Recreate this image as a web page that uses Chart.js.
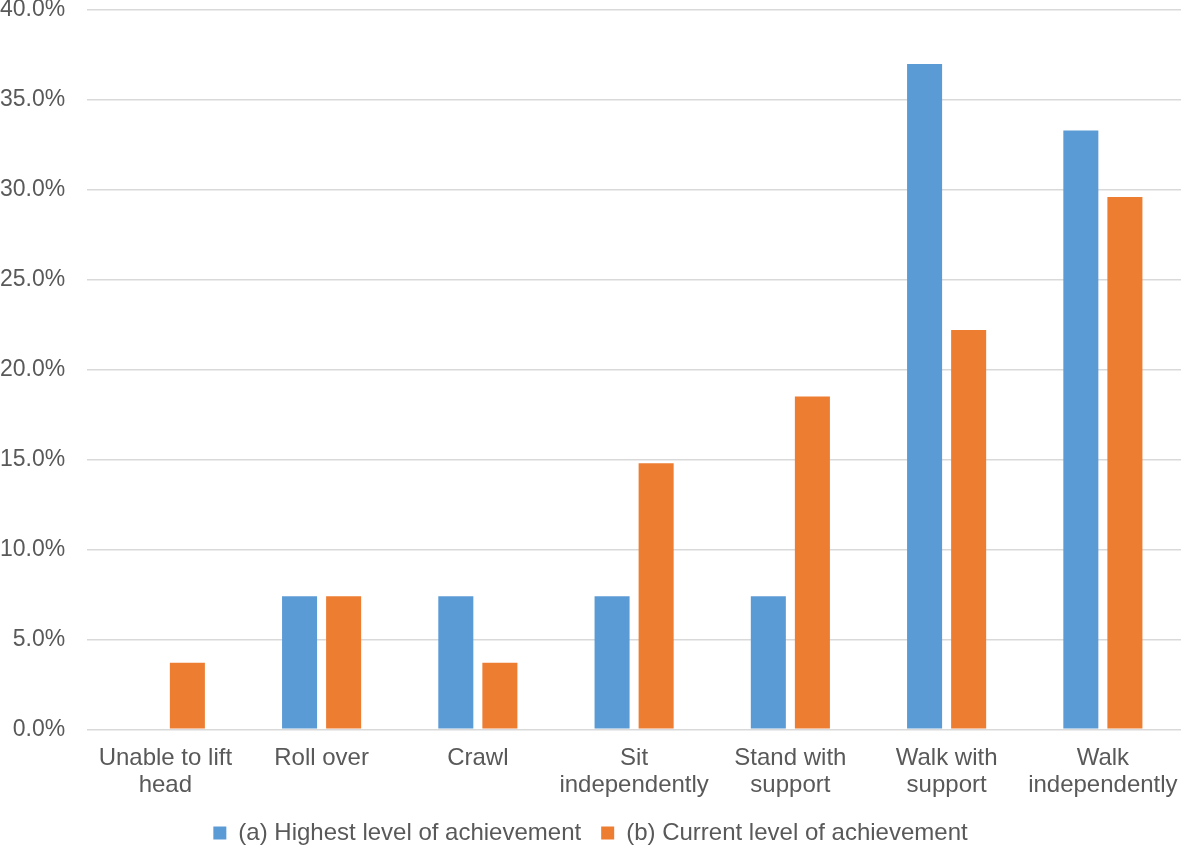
<!DOCTYPE html>
<html>
<head>
<meta charset="utf-8">
<script src="https://cdn.jsdelivr.net/npm/chart.js@4/dist/chart.umd.min.js"></script>
<style>
  html, body { margin: 0; padding: 0; background: #fff; }
  #wrap { width: 1181px; height: 847px; }
</style>
</head>
<body>
<div id="wrap"><canvas id="achievementChart"></canvas></div>
<script>
// motor milestones
const categories = [
    ["Unable to lift", "head"],
    ["Roll over"],
    ["Crawl"],
    ["Sit", "independently"],
    ["Stand with", "support"],
    ["Walk with", "support"],
    ["Walk", "independently"]
];
const highestLevel = [0, 7.4, 7.4, 7.4, 7.4, 37.0, 33.3];
const currentLevel = [3.7, 7.4, 3.7, 14.8, 18.5, 22.2, 29.6];
const seriesNames = ["(a) Highest level of achievement", "(b) Current level of achievement"];
const yTicks = [0, 5, 10, 15, 20, 25, 30, 35, 40];

Chart.defaults.font.family = "'Liberation Sans', Arial, sans-serif";
Chart.defaults.color = '#595959';

var ctx = document.getElementById("achievementChart").getContext('2d');
var myBarChart = new Chart(ctx, {
    type: 'bar',
    data: {
        labels: categories,
        datasets: [{
            label: seriesNames[0],
            data: highestLevel,
            backgroundColor: '#5B9BD5',
            categoryPercentage: 0.564,
            barPercentage: 0.795
        },
        {
            label: seriesNames[1],
            data: currentLevel,
            backgroundColor: '#ED7D31',
            categoryPercentage: 0.564,
            barPercentage: 0.795
        }]
    },
    options: {
        responsive: true,
        maintainAspectRatio: false,
        animation: false,
        layout: { padding: { top: 0, right: 0, left: 0, bottom: -8 } },
        plugins: {
            legend: {
                position: 'bottom',
                labels: {
                    boxWidth: 13,
                    boxHeight: 13,
                    padding: 20,
                    font: { size: 24 },
                    color: '#595959'
                }
            },
            tooltip: { enabled: false }
        },
        scales: {
            x: {
                grid: { display: false, drawTicks: true, tickLength: 13 },
                border: { display: false },
                ticks: {
                    font: { size: 24, lineHeight: 1.14 },
                    color: '#595959',
                    maxRotation: 0,
                    autoSkip: false,
                    padding: 2
                }
            },
            y: {
                min: 0,
                max: 40,
                afterBuildTicks: axis => {
                    axis.ticks = yTicks.map(v => ({ value: v }));
                },
                grid: { color: '#d9d9d9', lineWidth: 1.5, drawTicks: true, tickLength: 22, tickColor: 'rgba(0,0,0,0)' },
                border: { display: false },
                ticks: {
                    font: { size: 23, lineHeight: 0.87 },
                    color: '#595959',
                    padding: 0,
                    callback: v => v.toFixed(1) + '%'
                }
            }
        }
    }
});
</script>
</body>
</html>
